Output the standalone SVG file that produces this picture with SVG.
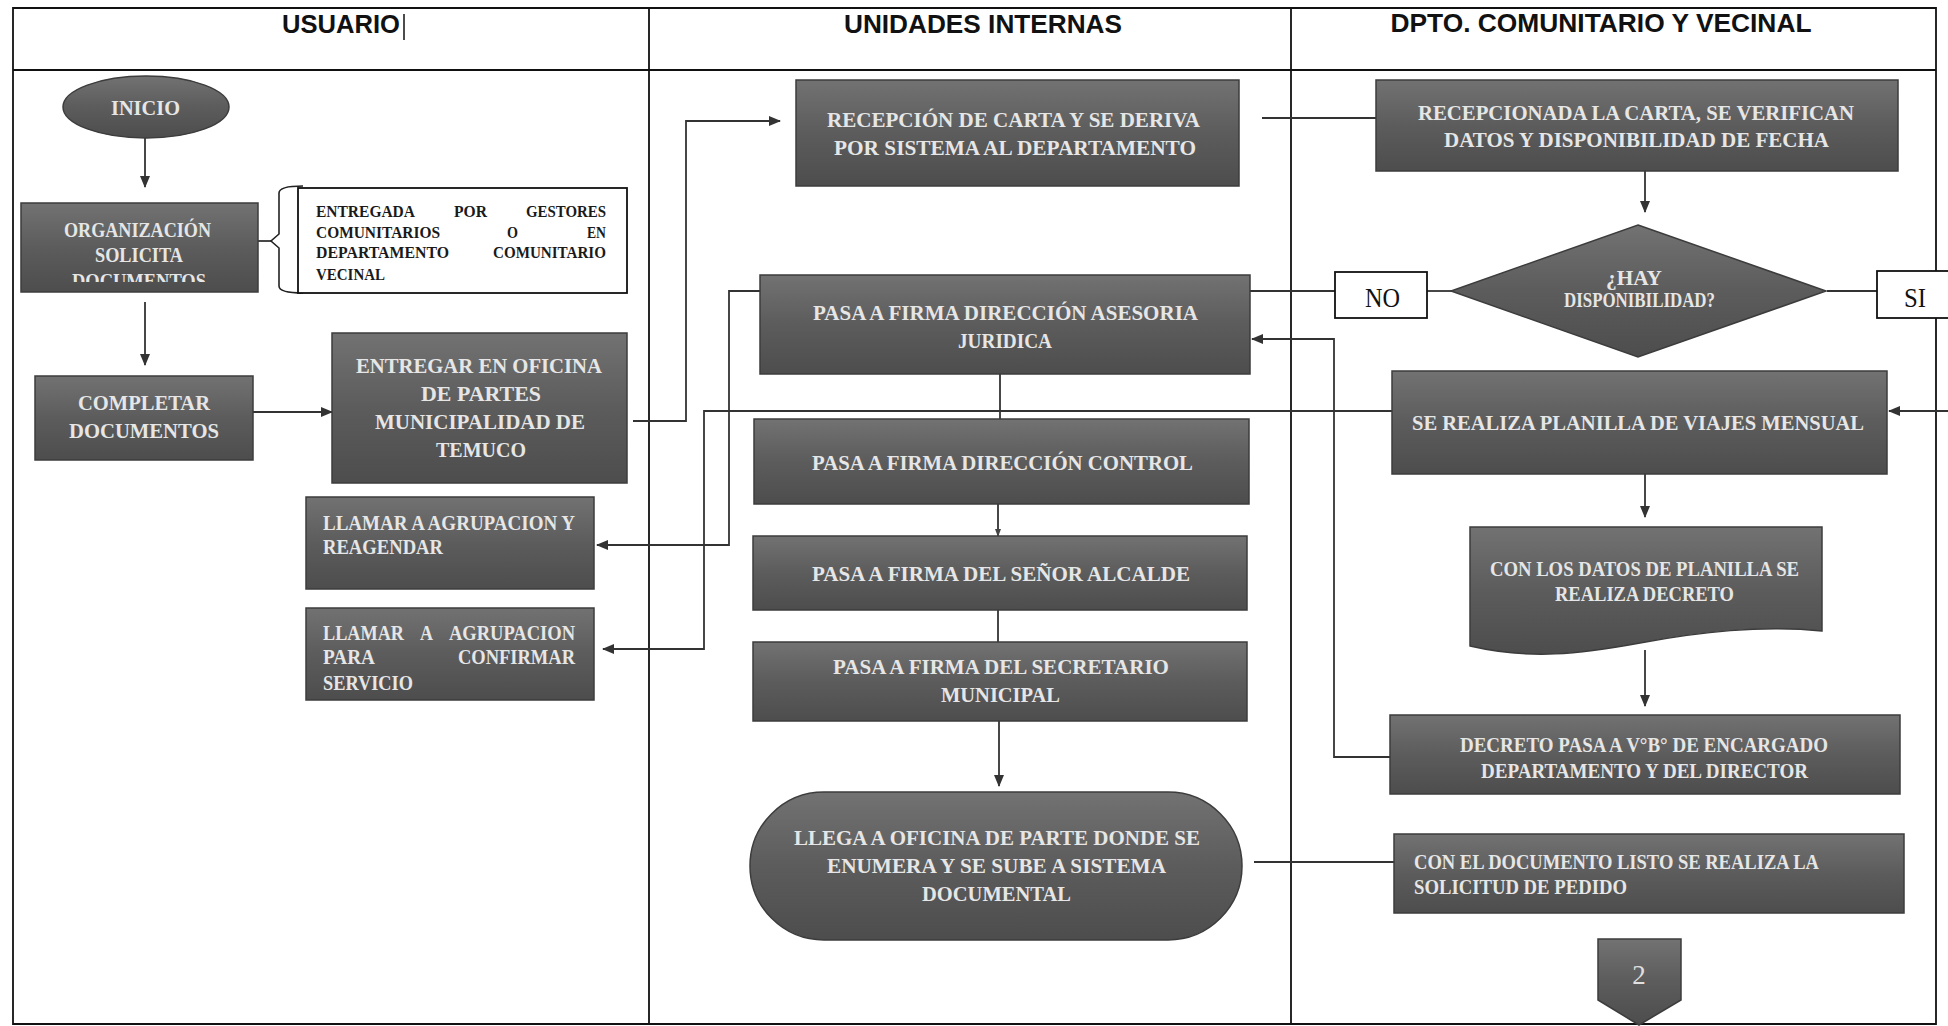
<svg xmlns="http://www.w3.org/2000/svg" width="1948" height="1026" viewBox="0 0 1948 1026">
<defs>
<linearGradient id="g" x1="0" y1="0" x2="0" y2="1">
<stop offset="0" stop-color="#727272"/>
<stop offset="0.5" stop-color="#5c5c5c"/>
<stop offset="1" stop-color="#4d4d4d"/>
</linearGradient>
<marker id="ar" markerWidth="12" markerHeight="12" refX="11" refY="6" orient="auto" markerUnits="userSpaceOnUse">
<path d="M0,1 L12,6 L0,11 Z" fill="#333"/>
</marker>
<marker id="ars" markerWidth="8" markerHeight="8" refX="7" refY="4" orient="auto" markerUnits="userSpaceOnUse">
<path d="M0,1 L8,4 L0,7 Z" fill="#444"/>
</marker>
<clipPath id="orgclip"><rect x="21" y="203" width="237" height="79"/></clipPath>
<style>
.box{fill:url(#g);stroke:#3c3c3c;stroke-width:1.5}
.wbox{fill:#fff;stroke:#111;stroke-width:1.8}
.t{font-family:"Liberation Serif","Times New Roman",serif;font-weight:bold;fill:#e6e6e6;font-size:22px}
.tm{text-anchor:middle}
.s{font-size:20.5px}
.a{font-family:"Liberation Serif","Times New Roman",serif;font-weight:bold;fill:#1a1a1a;font-size:17.5px}
.h{font-family:"Liberation Sans Narrow","Liberation Sans",Arial,sans-serif;font-weight:bold;font-size:25px;fill:#111;text-anchor:middle}
.lab{font-family:"Liberation Serif","Times New Roman",serif;font-size:27px;fill:#111;text-anchor:middle}
.grid{stroke:#111;stroke-width:1.8;fill:none}
.c{stroke:#333;stroke-width:1.8;fill:none}
</style>
</defs>
<rect width="1948" height="1026" fill="#fff"/>

<g id="table">
<path class="grid" d="M13,8 H1936 V1024 H13 Z M13,70 H1936 M649,8 V1024 M1291,8 V1024"/>
<line x1="404" y1="14" x2="404" y2="40" stroke="#111" stroke-width="1.5"/>
<text class="h" x="341" y="33" textLength="118" lengthAdjust="spacingAndGlyphs">USUARIO</text>
<text class="h" x="983" y="33" textLength="278" lengthAdjust="spacingAndGlyphs">UNIDADES INTERNAS</text>
<text class="h" x="1601" y="32" textLength="421" lengthAdjust="spacingAndGlyphs">DPTO. COMUNITARIO Y VECINAL</text>
</g>

<g id="connectors">
<path class="c" d="M145,138 V187" marker-end="url(#ar)"/>
<path class="c" d="M145,302 V365" marker-end="url(#ar)"/>
<path class="c" d="M253,412 H332" marker-end="url(#ar)"/>
<path class="c" d="M633,421 H686 V121 H780" marker-end="url(#ar)"/>
<path class="c" d="M1262,118 H1376"/>
<path class="c" d="M1645,171 V212" marker-end="url(#ar)"/>
<path class="c" d="M1452,291 H1427"/>
<path class="c" d="M1335,291 H729 V545 H597" marker-end="url(#ar)"/>
<path class="c" d="M1827,291 H1877"/>
<path class="c" d="M1948,411 H1889" marker-end="url(#ar)"/>
<path class="c" d="M1392,411 H704 V649 H603" marker-end="url(#ar)"/>
<path class="c" d="M1000,374 V419"/>
<path class="c" d="M998,504 V536" marker-end="url(#ars)"/>
<path class="c" d="M998,610 V642"/>
<path class="c" d="M999,721 V786" marker-end="url(#ar)"/>
<path class="c" d="M1254,862 H1394"/>
<path class="c" d="M1645,474 V517" marker-end="url(#ar)"/>
<path class="c" d="M1645,650 V706" marker-end="url(#ar)"/>
<path class="c" d="M1390,757 H1334 V339 H1252" marker-end="url(#ar)"/>
<path class="c" d="M258,241 H271"/>
</g>

<g id="inicio">
<ellipse class="box" cx="146" cy="107" rx="83" ry="31"/>
<text class="t tm" x="145.5" y="115" font-size="20" textLength="69" lengthAdjust="spacingAndGlyphs">INICIO</text>
</g>

<g id="organizacion">
<rect class="box" x="21" y="203" width="237" height="89"/>
<g clip-path="url(#orgclip)">
<text class="t tm" x="137.5" y="237" font-size="21.5" textLength="147" lengthAdjust="spacingAndGlyphs">ORGANIZACIÓN</text>
<text class="t tm" x="139" y="262" font-size="21.5" textLength="88" lengthAdjust="spacingAndGlyphs">SOLICITA</text>
<text class="t tm" x="139" y="288" font-size="21.5" textLength="134" lengthAdjust="spacingAndGlyphs">DOCUMENTOS</text>
</g>
</g>

<g id="nota">
<path d="M303,186 Q279,186 279,193 V234 L271,241 L279,248 V286 Q279,293 303,293" fill="none" stroke="#222" stroke-width="1.6"/>
<rect class="wbox" x="298" y="188" width="329" height="105"/>
<text class="a" x="316" y="217" textLength="99" lengthAdjust="spacingAndGlyphs">ENTREGADA</text>
<text class="a" x="454" y="217" textLength="33" lengthAdjust="spacingAndGlyphs">POR</text>
<text class="a" x="526" y="217" textLength="80" lengthAdjust="spacingAndGlyphs">GESTORES</text>
<text class="a" x="316" y="238" textLength="124" lengthAdjust="spacingAndGlyphs">COMUNITARIOS</text>
<text class="a" x="507" y="238" textLength="11" lengthAdjust="spacingAndGlyphs">O</text>
<text class="a" x="587" y="238" textLength="19" lengthAdjust="spacingAndGlyphs">EN</text>
<text class="a" x="316" y="258" textLength="133" lengthAdjust="spacingAndGlyphs">DEPARTAMENTO</text>
<text class="a" x="493" y="258" textLength="113" lengthAdjust="spacingAndGlyphs">COMUNITARIO</text>
<text class="a" x="316" y="280" textLength="69" lengthAdjust="spacingAndGlyphs">VECINAL</text>
</g>

<g id="completar">
<rect class="box" x="35" y="376" width="218" height="84"/>
<text class="t tm" x="144" y="410" font-size="23.5" textLength="132" lengthAdjust="spacingAndGlyphs">COMPLETAR</text>
<text class="t tm" x="144" y="438" font-size="23.5" textLength="150" lengthAdjust="spacingAndGlyphs">DOCUMENTOS</text>
</g>

<g id="entregar">
<rect class="box" x="332" y="333" width="295" height="150"/>
<text class="t tm" x="479" y="373" textLength="246" lengthAdjust="spacingAndGlyphs">ENTREGAR EN OFICINA</text>
<text class="t tm" x="481" y="401" textLength="120" lengthAdjust="spacingAndGlyphs">DE PARTES</text>
<text class="t tm" x="480" y="429" textLength="210" lengthAdjust="spacingAndGlyphs">MUNICIPALIDAD DE</text>
<text class="t tm" x="481" y="457" textLength="90" lengthAdjust="spacingAndGlyphs">TEMUCO</text>
</g>

<g id="reagendar">
<rect class="box" x="306" y="497" width="288" height="92"/>
<text class="t s" x="323" y="530" textLength="252" lengthAdjust="spacingAndGlyphs">LLAMAR A AGRUPACION Y</text>
<text class="t s" x="323" y="554" textLength="120" lengthAdjust="spacingAndGlyphs">REAGENDAR</text>
</g>

<g id="confirmar">
<rect class="box" x="306" y="608" width="288" height="92"/>
<text class="t s" x="323" y="640" textLength="81" lengthAdjust="spacingAndGlyphs">LLAMAR</text>
<text class="t s" x="420" y="640" textLength="13" lengthAdjust="spacingAndGlyphs">A</text>
<text class="t s" x="449" y="640" textLength="126" lengthAdjust="spacingAndGlyphs">AGRUPACION</text>
<text class="t s" x="323" y="664" textLength="52" lengthAdjust="spacingAndGlyphs">PARA</text>
<text class="t s" x="458" y="664" textLength="117" lengthAdjust="spacingAndGlyphs">CONFIRMAR</text>
<text class="t s" x="323" y="690" textLength="90" lengthAdjust="spacingAndGlyphs">SERVICIO</text>
</g>

<g id="recepcion">
<rect class="box" x="796" y="80" width="443" height="106"/>
<text class="t tm" x="1013.5" y="127" textLength="373" lengthAdjust="spacingAndGlyphs">RECEPCIÓN DE CARTA Y SE DERIVA</text>
<text class="t tm" x="1015" y="155" textLength="362" lengthAdjust="spacingAndGlyphs">POR SISTEMA AL DEPARTAMENTO</text>
</g>

<g id="asesoria">
<rect class="box" x="760" y="275" width="490" height="99"/>
<text class="t tm" x="1005.5" y="320" textLength="385" lengthAdjust="spacingAndGlyphs">PASA A FIRMA DIRECCIÓN ASESORIA</text>
<text class="t tm" x="1005" y="348" textLength="94" lengthAdjust="spacingAndGlyphs">JURIDICA</text>
</g>

<g id="control">
<rect class="box" x="754" y="419" width="495" height="85"/>
<text class="t tm" x="1002.5" y="470" textLength="381" lengthAdjust="spacingAndGlyphs">PASA A FIRMA DIRECCIÓN CONTROL</text>
</g>

<g id="alcalde">
<rect class="box" x="753" y="536" width="494" height="74"/>
<text class="t tm" x="1001" y="581" textLength="378" lengthAdjust="spacingAndGlyphs">PASA A FIRMA DEL SEÑOR ALCALDE</text>
</g>

<g id="secretario">
<rect class="box" x="753" y="642" width="494" height="79"/>
<text class="t tm" x="1001" y="674" textLength="336" lengthAdjust="spacingAndGlyphs">PASA A FIRMA DEL SECRETARIO</text>
<text class="t tm" x="1000.5" y="702" textLength="119" lengthAdjust="spacingAndGlyphs">MUNICIPAL</text>
</g>

<g id="llega">
<rect class="box" x="750" y="792" width="492" height="148" rx="74" ry="74"/>
<text class="t tm" x="997" y="845" textLength="406" lengthAdjust="spacingAndGlyphs">LLEGA A OFICINA DE PARTE DONDE SE</text>
<text class="t tm" x="996.5" y="873" textLength="339" lengthAdjust="spacingAndGlyphs">ENUMERA Y SE SUBE A SISTEMA</text>
<text class="t tm" x="996.5" y="901" textLength="149" lengthAdjust="spacingAndGlyphs">DOCUMENTAL</text>
</g>

<g id="recepcionada">
<rect class="box" x="1376" y="80" width="522" height="91"/>
<text class="t tm" x="1636" y="120" textLength="436" lengthAdjust="spacingAndGlyphs">RECEPCIONADA LA CARTA, SE VERIFICAN</text>
<text class="t tm" x="1636.5" y="147" textLength="385" lengthAdjust="spacingAndGlyphs">DATOS Y DISPONIBILIDAD DE FECHA</text>
</g>

<g id="decision">
<path class="box" d="M1638,225 L1826,291 L1638,357 L1451,291 Z"/>
<text class="t tm" x="1634" y="285" font-size="19" textLength="56" lengthAdjust="spacingAndGlyphs">¿HAY</text>
<text class="t tm" x="1639.5" y="307" font-size="19" textLength="151" lengthAdjust="spacingAndGlyphs">DISPONIBILIDAD?</text>
</g>

<g id="no">
<rect class="wbox" x="1335" y="272" width="92" height="46"/>
<text class="lab" x="1382.5" y="307" textLength="35" lengthAdjust="spacingAndGlyphs">NO</text>
</g>

<g id="si">
<rect class="wbox" x="1877" y="271" width="80" height="47"/>
<text class="lab" x="1915" y="307" textLength="22" lengthAdjust="spacingAndGlyphs">SI</text>
</g>

<g id="planilla">
<rect class="box" x="1392" y="371" width="495" height="103"/>
<text class="t tm" x="1638" y="430" textLength="452" lengthAdjust="spacingAndGlyphs">SE REALIZA PLANILLA DE VIAJES MENSUAL</text>
</g>

<g id="datos">
<path class="box" d="M1470,527 H1822 V631 C1760,625 1700,632 1640,643 C1580,654 1530,660 1470,646 Z"/>
<text class="t tm s" x="1644.5" y="576" textLength="309" lengthAdjust="spacingAndGlyphs">CON LOS DATOS DE PLANILLA SE</text>
<text class="t tm s" x="1644.5" y="601" textLength="179" lengthAdjust="spacingAndGlyphs">REALIZA DECRETO</text>
</g>

<g id="decreto">
<rect class="box" x="1390" y="715" width="510" height="79"/>
<text class="t tm s" x="1644" y="752" textLength="368" lengthAdjust="spacingAndGlyphs">DECRETO PASA A V°B° DE ENCARGADO</text>
<text class="t tm s" x="1644.5" y="778" textLength="327" lengthAdjust="spacingAndGlyphs">DEPARTAMENTO Y DEL DIRECTOR</text>
</g>

<g id="solicitud">
<rect class="box" x="1394" y="834" width="510" height="79"/>
<text class="t s" x="1414" y="869" textLength="405" lengthAdjust="spacingAndGlyphs">CON EL DOCUMENTO LISTO SE REALIZA LA</text>
<text class="t s" x="1414" y="894" textLength="213" lengthAdjust="spacingAndGlyphs">SOLICITUD DE PEDIDO</text>
</g>

<g id="conector2">
<path class="box" d="M1598,939 H1681 V1000 L1639,1025 L1598,1000 Z"/>
<text x="1639" y="984" text-anchor="middle" font-family="Liberation Serif,serif" font-size="27" fill="#e0e0e0">2</text>
</g>
</svg>
